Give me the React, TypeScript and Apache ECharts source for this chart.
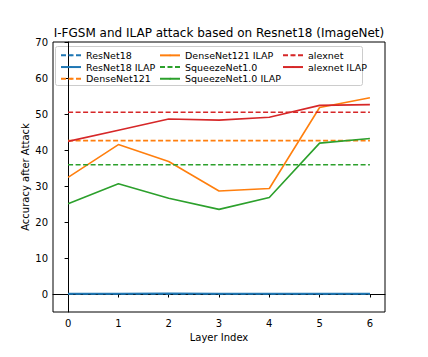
import React, { useEffect, useRef } from "react";
import * as echarts from "echarts";

const layers = [0, 1, 2, 3, 4, 5, 6];
const resnet18 = [0, 0, 0, 0, 0, 0, 0];
const resnet18Ilap = [0.1, 0.1, 0.2, 0.1, 0.1, 0.1, 0.1];
const densenet121 = [42.6, 42.6, 42.6, 42.6, 42.6, 42.6, 42.6];
const densenet121Ilap = [32.4, 41.5, 36.8, 28.6, 29.3, 51.8, 54.5];
const squeezenet = [35.9, 35.9, 35.9, 35.9, 35.9, 35.9, 35.9];
const squeezenetIlap = [25.1, 30.6, 26.6, 23.5, 26.8, 41.9, 43.2];
const alexnet = [50.5, 50.5, 50.5, 50.5, 50.5, 50.5, 50.5];
const alexnetIlap = [42.4, 45.5, 48.6, 48.3, 49.1, 52.4, 52.6];
const yTicks = [0, 10, 20, 30, 40, 50, 60, 70];

const FONT = "DejaVu Sans";

export default function App() {
  const ref = useRef<HTMLDivElement>(null);
  useEffect(() => {
    const chart = echarts.init(ref.current!, null, { renderer: "svg" });
    const mk = (name: string, vals: number[], color: string, dashed: boolean) => ({
      name,
      type: "line",
      data: layers.map((x, i) => [x, vals[i]]),
      symbol: "none",
      color,
      lineStyle: { color, width: 1.6, type: dashed ? [5, 2.5] : "solid" },
      itemStyle: { color },
    });
    const legendCommon = {
      orient: "vertical",
      itemWidth: 20,
      itemHeight: 2,
      itemGap: 0,
      padding: 0,
      textStyle: { fontFamily: FONT, fontSize: 9.5, color: "#000", lineHeight: 11.7 },
      selectedMode: false,
    };
    chart.setOption({
      animation: false,
      backgroundColor: "#fff",
      title: {
        text: "I-FGSM and ILAP attack based on Resnet18 (ImageNet)",
        left: 219,
        textAlign: "center",
        top: 27,
        padding: 0,
        textStyle: { fontFamily: FONT, fontSize: 12, fontWeight: "normal", color: "#000" },
      },
      grid: { left: 53, right: 43, top: 42, bottom: 45, show: true, borderColor: "#000", borderWidth: 1, backgroundColor: "transparent" },
      legend: [
        { ...legendCommon, left: 60, top: 49.5, data: ["ResNet18", "ResNet18 ILAP", "DenseNet121"] },
        { ...legendCommon, left: 159, top: 49.5, data: ["DenseNet121 ILAP", "SqueezeNet1.0", "SqueezeNet1.0 ILAP"] },
        { ...legendCommon, left: 282, top: 49.5, data: ["alexnet", "alexnet ILAP"] },
      ],
      graphic: [
        {
          type: "rect",
          shape: { x: 55.5, y: 46.5, width: 307, height: 39, r: 2 },
          style: { fill: "rgba(255,255,255,0.8)", stroke: "#ccc", lineWidth: 1 },
          z: 0,
        },
      ],
      xAxis: {
        type: "value",
        min: -0.3,
        max: 6.3,
        name: "Layer Index",
        nameLocation: "middle",
        nameGap: 20,
        nameTextStyle: { fontFamily: FONT, fontSize: 10, color: "#000" },
        axisLine: { lineStyle: { color: "#000", width: 1 } },
        axisTick: { show: true, customValues: layers, length: 3.5, lineStyle: { color: "#000" } },
        axisLabel: { customValues: layers, fontFamily: FONT, fontSize: 10, color: "#000", margin: 6 },
        splitLine: { show: false },
      },
      yAxis: {
        type: "value",
        min: -5,
        max: 70,
        name: "Accuracy after Attack",
        nameLocation: "middle",
        nameGap: 23,
        nameMoveOverlap: false,
        nameTextStyle: { fontFamily: FONT, fontSize: 10, color: "#000" },
        axisLine: { show: true, lineStyle: { color: "#000", width: 1 } },
        axisTick: { show: true, customValues: yTicks, length: 3.5, lineStyle: { color: "#000" } },
        axisLabel: { customValues: yTicks, fontFamily: FONT, fontSize: 10, color: "#000", margin: 5 },
        splitLine: { show: false },
      },
      series: [
        mk("ResNet18", resnet18, "#1f77b4", true),
        mk("ResNet18 ILAP", resnet18Ilap, "#1f77b4", false),
        mk("DenseNet121", densenet121, "#ff7f0e", true),
        mk("DenseNet121 ILAP", densenet121Ilap, "#ff7f0e", false),
        mk("SqueezeNet1.0", squeezenet, "#2ca02c", true),
        mk("SqueezeNet1.0 ILAP", squeezenetIlap, "#2ca02c", false),
        mk("alexnet", alexnet, "#d62728", true),
        mk("alexnet ILAP", alexnetIlap, "#d62728", false),
      ],
    });
    return () => chart.dispose();
  }, []);
  return <div ref={ref} style={{ width: 428, height: 357, position: "absolute", left: 0, top: 0 }} />;
}
